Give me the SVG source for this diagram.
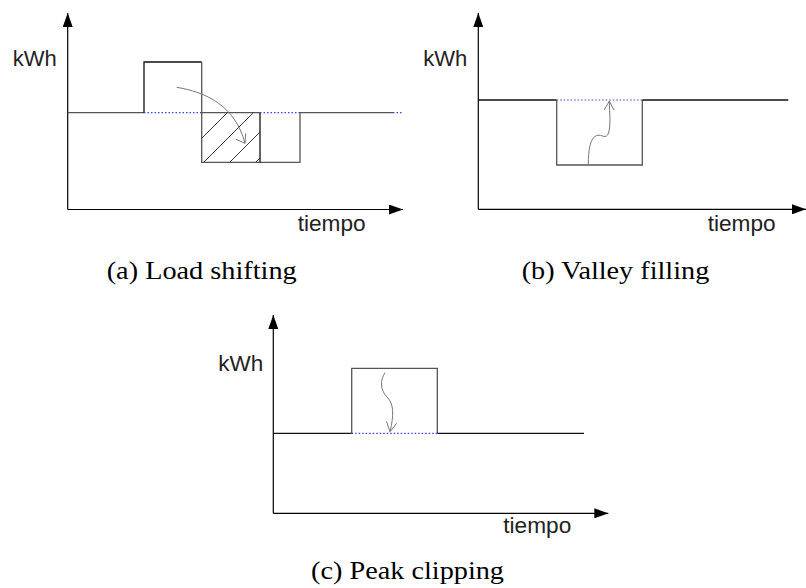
<svg xmlns="http://www.w3.org/2000/svg" width="806" height="588" viewBox="0 0 806 588">
<defs>
<marker id="ah" viewBox="0 0 14 10" refX="14" refY="5" markerWidth="14" markerHeight="10" markerUnits="userSpaceOnUse" orient="auto">
<path d="M0,0 L14,5 L0,10 Z" fill="#000"/>
</marker>
<clipPath id="hclip"><rect x="201.7" y="112.7" width="58.3" height="49.6"/></clipPath>
</defs>
<style>
.axis{stroke:#000;stroke-width:1.2;fill:none}
.ln{stroke:#555;stroke-width:1.3;fill:none}
.dk{stroke:#111;stroke-width:1.3;fill:none}
.dot{stroke:#3344ee;stroke-width:1.2;stroke-dasharray:1.5 2;fill:none}
.arr{stroke:#777;stroke-width:1;fill:none}
.hatch{stroke:#222;stroke-width:0.9}
.lbl{font-family:"Liberation Sans",Arial,sans-serif;font-size:22px;fill:#222}
.cap{font-family:"Liberation Serif","Times New Roman",serif;font-size:25px;fill:#000}
</style>

<g id="panel-a">
<path class="axis" d="M67.7,209.5 V13" marker-end="url(#ah)"/>
<path class="axis" d="M67.7,209.5 H403" marker-end="url(#ah)"/>
<text class="lbl" x="12.7" y="66" textLength="44" lengthAdjust="spacingAndGlyphs">kWh</text>
<text class="lbl" x="297.7" y="230.7" textLength="68" lengthAdjust="spacingAndGlyphs">tiempo</text>
<path class="ln" d="M67.7,112.7 H144"/>
<path class="dk" d="M144,112.7 V62 H201.7"/>
<path class="ln" d="M201.7,62 V162.3 H300 V112.7 H393"/>
<path class="ln" d="M201.7,112.7 H260"/>
<path class="dk" d="M260,112.7 V162.3"/>
<path class="dot" d="M144,112.7 H201.7 M260,112.7 H300 M393,112.7 H402"/>
<g clip-path="url(#hclip)">
<path class="hatch" d="M160,180 L240,100 M186,180 L266,100 M212,180 L292,100 M238,180 L318,100"/>
</g>
<path class="arr" d="M176.7,87.3 C205,92 235,105 245,143.3"/>
<path class="arr" d="M236,139.3 L245,143.3 L245.7,133.3"/>
<text class="cap" x="106.7" y="279.3" textLength="190" lengthAdjust="spacingAndGlyphs">(a) Load shifting</text>
</g>

<g id="panel-b">
<path class="axis" d="M478.3,209.3 V13" marker-end="url(#ah)"/>
<path class="axis" d="M478.3,209.3 H806" marker-end="url(#ah)"/>
<text class="lbl" x="423.3" y="66" textLength="44" lengthAdjust="spacingAndGlyphs">kWh</text>
<text class="lbl" x="707.7" y="230.7" textLength="68" lengthAdjust="spacingAndGlyphs">tiempo</text>
<path class="dk" d="M478.3,100 H556.7"/>
<path class="ln" d="M556.7,100 V165 H642.3 V100"/>
<path class="dk" d="M642.3,100 H788.3"/>
<path class="dot" d="M556.7,100 H642.3"/>
<path class="arr" d="M588.3,165 C588.3,150 590,138 596.7,135.5 C602,134 606,140 608.5,133 C611,125 609.5,112 609.3,101"/>
<path class="arr" d="M604.3,110 L609.3,101 L614,110"/>
<text class="cap" x="521.7" y="279.3" textLength="187.6" lengthAdjust="spacingAndGlyphs">(b) Valley filling</text>
</g>

<g id="panel-c">
<path class="axis" d="M273.3,513.3 V315" marker-end="url(#ah)"/>
<path class="axis" d="M273.3,513.3 H608.3" marker-end="url(#ah)"/>
<text class="lbl" x="218.3" y="370.7" textLength="45" lengthAdjust="spacingAndGlyphs">kWh</text>
<text class="lbl" x="503.3" y="533.3" textLength="68" lengthAdjust="spacingAndGlyphs">tiempo</text>
<path class="dk" d="M273.3,433.3 H351.7"/>
<path class="ln" d="M351.7,433.3 V368.3 H437.3 V433.3"/>
<path class="dk" d="M437.3,433.3 H584"/>
<path class="dot" d="M351.7,433.3 H437.3"/>
<path class="arr" d="M385,372.7 C380,380 380,390 387,397 C394,404 394,415 390,431.7"/>
<path class="arr" d="M386.5,421.5 L390,431.7 L396.7,423.3"/>
<text class="cap" x="311" y="579" textLength="193" lengthAdjust="spacingAndGlyphs">(c) Peak clipping</text>
</g>
</svg>
